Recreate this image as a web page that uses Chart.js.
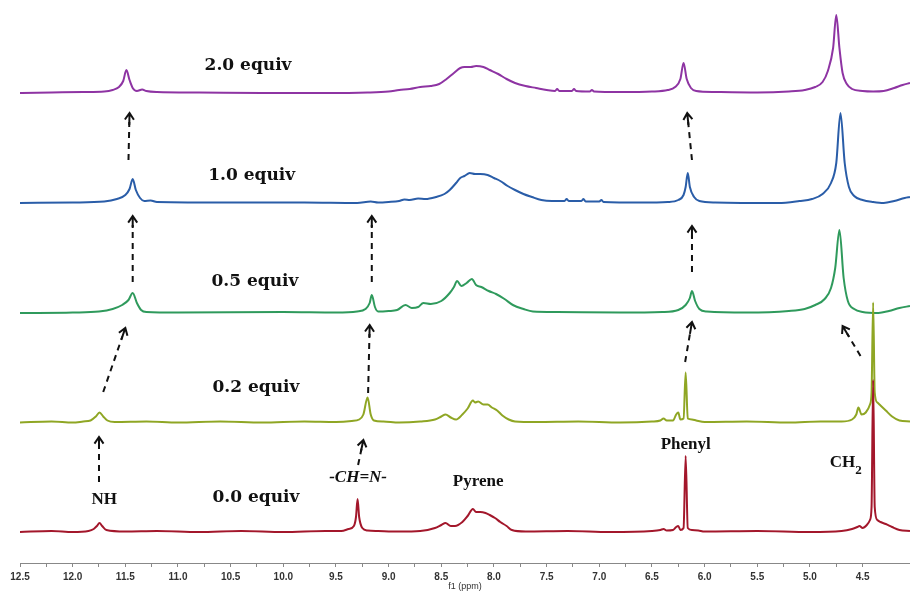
<!DOCTYPE html>
<html>
<head>
<meta charset="utf-8">
<script src="https://cdn.jsdelivr.net/npm/chart.js@4.4.1/dist/chart.umd.min.js"></script>
<style>
  html, body { margin: 0; padding: 0; background: #fff; }
  canvas { display: block; }
</style>
</head>
<body>
<canvas id="nmrChart" width="910" height="592"></canvas>
<script>
// 1H NMR spectra, [ppm, intensity above baseline]
const spec00 = [[12.5,0],[12.2,1],[12.0,0],[11.85,1],[11.8,3],[11.77,6],[11.745,9],[11.72,6],[11.68,2],[11.5,0.5],[11.2,1],[10.8,0],[10.4,1],[10.0,0],[9.6,1],[9.45,1],[9.38,3],[9.33,6],[9.31,15],[9.295,33],[9.28,15],[9.25,4],[9.2,1.5],[9.1,1],[8.9,0.5],[8.7,1],[8.56,4],[8.5,7],[8.46,9],[8.41,6],[8.37,6],[8.3,10],[8.25,16],[8.2,23],[8.17,20],[8.13,20],[8.08,19],[8.04,17],[7.99,14],[7.94,10],[7.88,6],[7.83,2],[7.7,0.5],[7.3,1],[6.9,0],[6.5,1],[6.42,2],[6.39,3],[6.36,1.5],[6.3,2],[6.27,5],[6.25,6],[6.23,2],[6.2,4],[6.18,76],[6.16,4],[6.12,2],[6.06,1.5],[6.0,0.5],[5.5,1],[5.0,0],[4.7,1],[4.6,3],[4.55,5],[4.53,6],[4.5,4],[4.46,7],[4.43,12],[4.415,25],[4.40,152],[4.385,25],[4.36,12],[4.33,10],[4.28,8],[4.22,5],[4.15,2],[4.05,1]];
const spec02 = [[12.5,0],[12.2,1],[12.0,0],[11.9,1],[11.83,2],[11.78,6],[11.745,10],[11.71,6],[11.67,2],[11.6,0.5],[11.3,1],[11.0,0],[10.6,1],[10.2,0],[9.8,1],[9.5,0.5],[9.35,1.5],[9.28,3],[9.24,8],[9.2,25],[9.17,8],[9.14,2],[9.05,1],[8.9,0],[8.7,1],[8.56,3],[8.5,6],[8.46,8],[8.41,5],[8.36,3],[8.3,8],[8.25,14],[8.2,22],[8.18,20],[8.15,21],[8.1,18],[8.06,18],[8.02,15],[7.97,12],[7.92,7],[7.86,3],[7.8,1],[7.6,0.5],[7.2,1],[6.8,0],[6.5,1],[6.42,2],[6.39,4],[6.36,2],[6.3,2],[6.27,8],[6.25,10],[6.23,3],[6.2,4],[6.18,50],[6.16,4],[6.12,3],[6.08,2],[6.0,0.5],[5.6,1],[5.2,0],[4.9,1],[4.7,1],[4.6,3],[4.56,8],[4.54,15],[4.51,8],[4.47,10],[4.43,18],[4.415,30],[4.40,120],[4.385,30],[4.36,20],[4.33,17],[4.28,12],[4.22,6],[4.15,2],[4.05,1]];
const spec05 = [[12.5,0],[12.0,0.5],[11.75,1.5],[11.62,4],[11.53,8],[11.47,13],[11.43,20],[11.39,10],[11.35,3],[11.3,1],[11.0,0.5],[10.0,1],[9.5,0.5],[9.3,1.5],[9.22,4],[9.18,10],[9.16,18],[9.13,6],[9.1,1.5],[9.0,2],[8.92,3],[8.84,8],[8.78,5],[8.72,6],[8.67,10],[8.6,9],[8.5,12],[8.42,20],[8.38,26],[8.35,32],[8.31,27],[8.26,30],[8.21,34],[8.17,28],[8.12,26],[8.05,22],[7.98,19],[7.9,14],[7.82,8],[7.72,4],[7.63,1.5],[7.4,1],[6.8,0.5],[6.4,1],[6.25,3],[6.18,8],[6.14,15],[6.12,22],[6.09,12],[6.05,4],[5.98,1.5],[5.6,0.5],[5.2,2],[5.05,4],[4.95,8],[4.86,14],[4.8,25],[4.76,45],[4.72,83],[4.68,35],[4.64,12],[4.58,4],[4.5,1],[4.35,0],[4.25,2],[4.15,5],[4.05,7]];
const spec10 = [[12.5,0],[12.0,0.5],[11.7,1.5],[11.58,4],[11.5,8],[11.46,14],[11.43,24],[11.4,13],[11.36,5],[11.32,2],[11.26,2.5],[11.2,1],[10.5,0.5],[9.8,0.5],[9.3,0],[9.17,1.5],[9.1,0.5],[9.0,1],[8.9,2],[8.85,3.5],[8.8,3],[8.72,4.5],[8.65,4],[8.55,6],[8.47,9],[8.42,13],[8.36,20],[8.32,25],[8.28,27],[8.23,30],[8.18,29],[8.13,29],[8.06,28],[8.0,25],[7.94,22],[7.87,17],[7.8,13],[7.72,9],[7.64,6],[7.55,3],[7.45,2],[7.33,2],[7.31,4],[7.29,2],[7.17,2],[7.15,4],[7.13,1.5],[7.0,1.5],[6.98,3],[6.96,1],[6.6,0.5],[6.35,1],[6.25,3],[6.2,8],[6.18,16],[6.16,30],[6.14,16],[6.1,6],[6.05,2],[5.9,0.5],[5.3,0],[5.1,2],[4.98,4],[4.88,9],[4.8,20],[4.75,40],[4.71,90],[4.67,40],[4.63,16],[4.58,7],[4.5,3],[4.4,1],[4.3,0],[4.2,2],[4.1,5],[4.05,6]];
const spec20 = [[12.5,0],[12.2,0.5],[11.9,1],[11.7,1.5],[11.62,3],[11.56,6],[11.52,12],[11.49,23],[11.46,13],[11.43,5],[11.39,2],[11.34,3.5],[11.3,2],[11.2,1],[10.8,0.5],[10.2,0],[9.6,0],[9.2,0.5],[9.0,1.5],[8.9,3],[8.8,4],[8.7,6],[8.6,7],[8.52,9],[8.45,14],[8.38,20],[8.32,25],[8.28,26],[8.22,26],[8.17,27],[8.1,26],[8.04,23],[7.96,19],[7.88,14],[7.8,10],[7.7,7],[7.6,5],[7.5,3],[7.42,2],[7.4,4],[7.38,2],[7.26,2],[7.24,4],[7.22,2],[7.09,1.5],[7.07,3],[7.05,1.5],[6.8,1],[6.5,1.5],[6.35,3],[6.28,6],[6.23,14],[6.2,30],[6.17,14],[6.13,5],[6.08,2],[5.9,1],[5.5,0.5],[5.2,1.5],[5.05,3],[4.95,6],[4.88,11],[4.83,22],[4.78,45],[4.75,78],[4.72,45],[4.69,20],[4.65,9],[4.6,4],[4.5,2],[4.4,1.5],[4.3,2],[4.2,5],[4.12,8],[4.05,10]];

const equivLabels = ['0.0 equiv', '0.2 equiv', '0.5 equiv', '1.0 equiv', '2.0 equiv'];
const spectra = [spec00, spec02, spec05, spec10, spec20];
const baselines = [31, 140.5, 250, 360, 470];
const colors = ['#a3172b', '#8fa624', '#2f9a5c', '#2a5da8', '#8e34a3'];

// label positions [ppm, height]
const equivPos = [[10.26, 65], [10.26, 175], [10.27, 281], [10.30, 387], [10.335, 497]];
const peakLabels = [
  { text: 'NH', at: [11.70, 63] },
  { text: 'Pyrene', at: [8.15, 81] },
  { text: 'Phenyl', at: [6.18, 118] }
];
// shift arrows [fromPpm, fromY, toPpm, toY]
const arrows = [
  [11.75, 81, 11.75, 126], [11.71, 171, 11.50, 235], [11.43, 281, 11.43, 347], [11.47, 403, 11.46, 450],
  [9.29, 98, 9.24, 123], [9.195, 170, 9.18, 238], [9.16, 281, 9.16, 347],
  [6.185, 201, 6.12, 241], [6.12, 291, 6.12, 337], [6.12, 403, 6.165, 450],
  [4.52, 207, 4.69, 237]
];

const annotate = {
  id: 'annotate',
  afterDatasetsDraw(chart) {
    const ctx = chart.ctx;
    const sx = chart.scales.x, sy = chart.scales.y;
    const px = v => sx.getPixelForValue(v);
    const py = v => sy.getPixelForValue(v);
    ctx.save();
    ctx.fillStyle = '#111';
    ctx.textAlign = 'center';
    ctx.textBaseline = 'middle';

    ctx.font = 'bold 17px "DejaVu Serif"';
    equivLabels.forEach((t, i) => ctx.fillText(t, px(equivPos[i][0]), py(equivPos[i][1])));

    ctx.font = 'bold 17px "Liberation Serif"';
    peakLabels.forEach(l => ctx.fillText(l.text, px(l.at[0]), py(l.at[1])));
    ctx.font = 'italic bold 17px "Liberation Serif"';
    ctx.fillText('-CH=N-', px(9.29), py(85));
    ctx.font = 'bold 17px "Liberation Serif"';
    ctx.textAlign = 'right';
    ctx.fillText('CH', px(4.57), py(100));
    ctx.textAlign = 'left';
    ctx.font = 'bold 13px "Liberation Serif"';
    ctx.fillText('2', px(4.57), py(92));

    ctx.strokeStyle = '#111';
    ctx.lineWidth = 2;
    arrows.forEach(a => {
      const x0 = px(a[0]), y0 = py(a[1]), x1 = px(a[2]), y1 = py(a[3]);
      const ang = Math.atan2(y1 - y0, x1 - x0);
      const len = Math.hypot(x1 - x0, y1 - y0);
      ctx.setLineDash([6, 5]);
      ctx.beginPath();
      ctx.moveTo(x0, y0);
      ctx.lineTo(x0 + Math.cos(ang) * (len - 9), y0 + Math.sin(ang) * (len - 9));
      ctx.stroke();
      ctx.setLineDash([]);
      ctx.beginPath();
      ctx.moveTo(x1 - 8 * Math.cos(ang - 0.6), y1 - 8 * Math.sin(ang - 0.6));
      ctx.lineTo(x1, y1);
      ctx.lineTo(x1 - 8 * Math.cos(ang + 0.6), y1 - 8 * Math.sin(ang + 0.6));
      ctx.moveTo(x1, y1);
      ctx.lineTo(x1 - 12 * Math.cos(ang), y1 - 12 * Math.sin(ang));
      ctx.stroke();
    });
    ctx.restore();
  }
};

const nmrChart = document.getElementById('nmrChart');

new Chart(nmrChart, {
  type: 'line',
  data: {
    datasets: spectra.map((s, i) => ({
      label: equivLabels[i],
      data: s.map(p => ({ x: p[0], y: baselines[i] + p[1] })),
      borderColor: colors[i],
      borderWidth: 2,
      pointRadius: 0,
      cubicInterpolationMode: 'monotone',
      fill: false,
      clip: false
    }))
  },
  options: {
    responsive: false,
    animation: false,
    layout: { padding: { left: 20, right: 0, top: 0, bottom: 0 } },
    plugins: { legend: { display: false }, tooltip: { enabled: false } },
    scales: {
      x: {
        type: 'linear',
        reverse: true,
        min: 4.05,
        max: 12.5,
        border: { display: true, color: '#888', width: 1 },
        grid: { drawOnChartArea: false, drawTicks: true, tickLength: 4, color: '#888' },
        afterBuildTicks: s => {
          s.ticks = s.ticks.filter(t => Math.abs(t.value * 4 - Math.round(t.value * 4)) < 1e-6);
        },
        ticks: {
          stepSize: 0.25,
          autoSkip: false,
          maxRotation: 0,
          padding: 4,
          color: '#333',
          font: { family: 'Liberation Sans', size: 10, weight: 'bold' },
          callback: v => (Math.abs(v * 2 - Math.round(v * 2)) < 1e-6 ? v.toFixed(1) : '')
        },
        title: { display: true, text: 'f1 (ppm)', color: '#333', font: { family: 'Liberation Sans', size: 9 }, padding: 0 },
        afterFit: s => { s.height = 29; }
      },
      y: { display: false, min: 0, max: 563 }
    }
  },
  plugins: [annotate]
});
</script>
</body>
</html>
